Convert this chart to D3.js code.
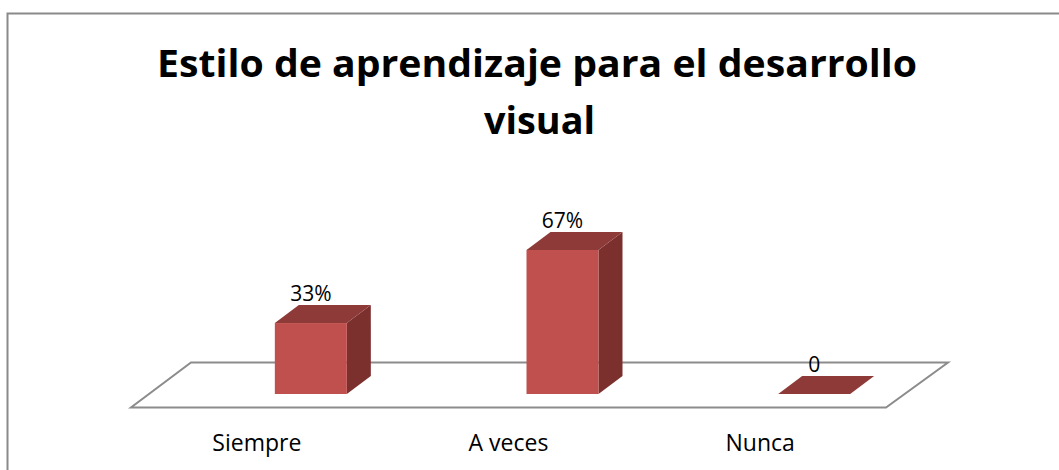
<!DOCTYPE html>
<html><head><meta charset="utf-8">
<script src="https://cdn.jsdelivr.net/npm/d3@7"></script>
<style>html,body{margin:0;padding:0;background:#fff;}svg{display:block;}</style>
</head><body>
<svg id="chart" width="1059" height="470"></svg>
<script>
const categories = ["Siempre", "A veces", "Nunca"];
const values = [33, 67, 0];
const valueLabels = ["33%", "67%", "0"];
const titleLines = ["Estilo de aprendizaje para el desarrollo", "visual"];

const svg = d3.select("#chart");
const font = "'Open Sans', 'Liberation Sans', sans-serif";

// outer border (extends beyond the view on right/bottom)
svg.append("rect").attr("x", 7.5).attr("y", 13.5).attr("width", 1060).attr("height", 470)
  .attr("fill", "none").attr("stroke", "#8a8a8a").attr("stroke-width", 2);

// title
const titleX = [537, 539.5], titleY = [77, 134], titleW = [760, 111];
titleLines.forEach((t, i) => {
  svg.append("text").attr("x", titleX[i]).attr("y", titleY[i])
    .attr("text-anchor", "middle").attr("font-family", font).attr("font-weight", 700)
    .attr("font-size", 37).attr("fill", "#000")
    .attr("textLength", titleW[i]).attr("lengthAdjust", "spacingAndGlyphs").text(t);
});

// scales
const x = d3.scaleBand().domain(categories).range([131, 886]).padding(0);
const y = d3.scaleLinear().domain([0, 100]).range([394, 179]);

// floor
const floorFront = 407.5, floorBack = 362.5, fdx = 60;
const floorPts = [[x.range()[0], floorFront], [x.range()[1], floorFront],
  [x.range()[1] + fdx + 2, floorBack], [x.range()[0] + fdx, floorBack]];
svg.append("path").attr("d", d3.line()(floorPts) + "Z")
  .attr("fill", "#fff").attr("stroke", "#8c8c8c").attr("stroke-width", 2);

// bars (3D)
const barW = 72, ddx = 24, ddy = 18, barOffset = 54;
const g = svg.append("g");
categories.forEach((c, i) => {
  const cx = x(c) + x.bandwidth() / 2 + barOffset;
  const x0 = cx - barW / 2, x1 = cx + barW / 2;
  const yb = y(0), yt = y(values[i]);
  if (values[i] > 0) {
    g.append("path").attr("d", d3.line()([[x1, yb], [x1 + ddx, yb - ddy], [x1 + ddx, yt - ddy], [x1, yt]]) + "Z")
      .attr("fill", "#7b302e");
    g.append("rect").attr("x", x0).attr("y", yt).attr("width", barW).attr("height", yb - yt)
      .attr("fill", "#c0504d");
  }
  g.append("path").attr("d", d3.line()([[x0, yt], [x1, yt], [x1 + ddx, yt - ddy], [x0 + ddx, yt - ddy]]) + "Z")
    .attr("fill", "#8e3a38");
  g.append("text").attr("x", cx).attr("y", yt - ddy - 4).attr("text-anchor", "middle")
    .attr("font-family", font).attr("font-size", 21).attr("fill", "#000").text(valueLabels[i]);
});

// category labels
categories.forEach(c => {
  svg.append("text").attr("x", x(c) + x.bandwidth() / 2).attr("y", 451)
    .attr("text-anchor", "middle").attr("font-family", font).attr("font-size", 23)
    .attr("fill", "#000").text(c);
});
</script>
</body></html>
